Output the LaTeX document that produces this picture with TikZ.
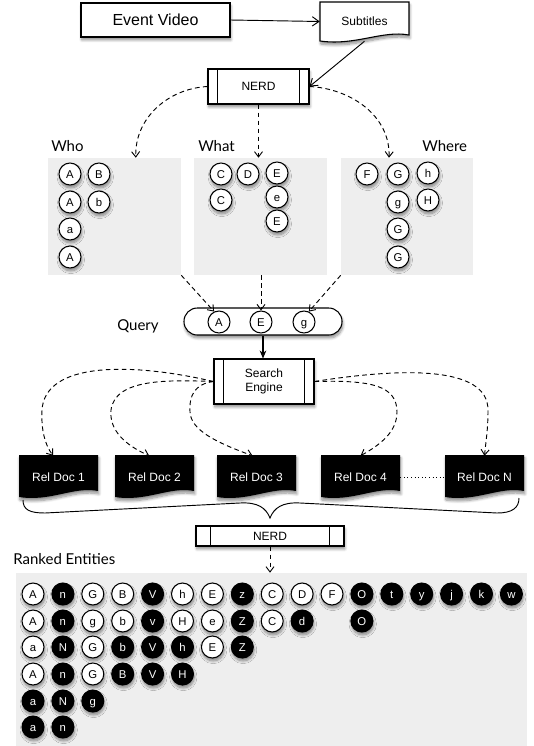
\documentclass[tikz,border=0pt]{standalone}
\usepackage{fontspec}
\setmainfont{Liberation Sans}
\newfontfamily\labelfont{Lato}
\usetikzlibrary{arrows.meta,shadows,calc}
\IfFileExists{tikzlibraryshadows.blur.code.tex}{%
  \usetikzlibrary{shadows.blur}%
  \tikzset{sh/.style={blur shadow={shadow xshift=0.6pt,shadow yshift=-2.2pt,shadow blur steps=8,shadow blur radius=2pt,shadow opacity=45}}}%
}{%
  \tikzset{sh/.style={drop shadow={shadow xshift=0.7pt,shadow yshift=-2.2pt,opacity=0.35}}}%
}
\definecolor{panel}{RGB}{238,238,238}
\newcommand{\docshape}[5]{%
  \path[#5] (#1,#2) -- (#3,#2) -- (#3,{#4-6})
    .. controls ({#3-0.3*(#3-#1)},{#4-11}) and ({#1+0.4*(#3-#1)},{#4+5}) .. (#1,#4) -- cycle;}
\newcommand{\proclines}[2]{%
  \draw[line width=0.8pt] ([xshift=#2]#1.north west) -- ([xshift=#2]#1.south west);
  \draw[line width=0.8pt] ([xshift=-#2]#1.north east) -- ([xshift=-#2]#1.south east);}
\begin{document}
\begin{tikzpicture}[x=0.75pt,y=-0.75pt,
  box/.style={draw=black,fill=white,line width=0.8pt,inner sep=0pt,sh},
  proc/.style={box,font=\fontsize{9}{11}\selectfont},
  ent0/.style={circle,draw=black,line width=0.8pt,minimum size=16.5pt,inner sep=0pt,
              text height=6.1pt,text depth=0pt,font=\fontsize{8.5}{9}\selectfont},
  ent/.style={ent0,sh},
  lbl/.style={font=\labelfont\fontsize{11.25}{13}\selectfont,inner sep=0pt,anchor=base west},
  pan/.style={fill=panel,inner sep=0pt},
  dsh/.style={dash pattern=on 3.5pt off 2.5pt,line width=0.7pt,-{Straight Barb[length=4pt,width=6pt]}},
  arr/.style={line width=0.7pt,-{Straight Barb[length=5pt,width=7pt]}},
  docnode/.style={inner sep=0pt,minimum width=59.25pt,minimum height=31.5pt,text=white,
              font=\fontsize{9}{11}\selectfont}
]
\useasboundingbox (0,0) rectangle (534,746);

% ---------- top ----------
\node[box,font=\fontsize{12}{14}\selectfont,minimum width=111.75pt,minimum height=25.5pt] (ev) at (155.5,20) {Event Video};
\docshape{320}{2}{409}{41}{fill=white,draw=black,line width=0.8pt,sh}
\node[inner sep=0pt,minimum width=66.75pt,minimum height=29.25pt,font=\fontsize{9}{11}\selectfont] (sub) at (364.5,21.5) {Subtitles};
\node[proc,minimum width=75.75pt,minimum height=26.25pt] (nerd1) at (258.5,86.5) {NERD};
\proclines{nerd1}{7.5pt}
\draw[arr] (ev.east) -- (sub.west);
\draw[arr] (sub.south) -- (nerd1.east);

% ---------- panels ----------
\node[pan,minimum width=99.75pt,minimum height=87.75pt] (who) at (114.5,216.5) {};
\node[pan,minimum width=99.75pt,minimum height=87.75pt] (what) at (260.5,216.5) {};
\node[pan,minimum width=99pt,minimum height=87.75pt] (where) at (407,216.5) {};
\node[lbl] (lwho) at (51,151) {Who};
\node[lbl] (lwhat) at (198,151) {What};
\node[lbl] (lwhere) at (422,151) {Where};

\draw[dsh] (nerd1.west) to[out=183,in=92] ([xshift=16pt]who.north);
\draw[dsh] (nerd1.south) -- (nerd1.south |- what.north);
\draw[dsh] (nerd1.east) to[out=-3,in=88] ([xshift=-13.5pt]where.north);

% who
\node[ent,fill=white] (w1) at (70,174) {A};
\node[ent,fill=white] (w2) at (99,174) {B};
\node[ent,fill=white] (w3) at (70,202) {A};
\node[ent,fill=white] (w4) at (99,202) {b};
\node[ent,fill=white] (w5) at (70,229) {a};
\node[ent,fill=white] (w6) at (70,257) {A};
% what
\node[ent,fill=white] (h1) at (221,174) {C};
\node[ent,fill=white] (h2) at (248,174) {D};
\node[ent,fill=white] (h3) at (277,173) {E};
\node[ent,fill=white] (h4) at (221,200) {C};
\node[ent,fill=white] (h5) at (277,197) {e};
\node[ent,fill=white] (h6) at (277,221) {E};
% where
\node[ent,fill=white] (e1) at (367,174) {F};
\node[ent,fill=white] (e2) at (398,174) {G};
\node[ent,fill=white] (e3) at (428,173) {h};
\node[ent,fill=white] (e4) at (398,202) {g};
\node[ent,fill=white] (e5) at (428,200) {H};
\node[ent,fill=white] (e6) at (398,229) {G};
\node[ent,fill=white] (e7) at (398,257) {G};

% ---------- query ----------
\node[box,rounded corners=10pt,minimum width=118.5pt,minimum height=20.25pt] (query) at (263,321.5) {};
\node[ent0,fill=white] (q1) at (219,322) {A};
\node[ent0,fill=white] (q2) at (261,322) {E};
\node[ent0,fill=white] (q3) at (304,322) {g};
\node[lbl] (lquery) at (117,330) {Query};
\draw[dsh] (who.south east) -- (q1.115);
\draw[dsh] (q2.north |- what.south) -- (q2.north);
\draw[dsh] (where.south west) -- (q3.65);

% ---------- search engine ----------
\node[proc,align=center,minimum width=75pt,minimum height=33.75pt] (se) at (264,381.5) {Search\\Engine};
\proclines{se}{7.5pt}
\draw[line width=0.8pt,-{Stealth[length=6pt,width=5pt]}] (query.south) -- (query.south |- se.north);

% ---------- documents ----------
\docshape{19}{455}{98}{497}{fill=black,sh}
\docshape{115}{455}{194}{497}{fill=black,sh}
\docshape{217}{455}{296}{497}{fill=black,sh}
\docshape{321}{455}{400}{497}{fill=black,sh}
\docshape{445}{455}{524}{497}{fill=black,sh}
\node[docnode] (d1) at (58.5,477) {Rel Doc 1};
\node[docnode] (d2) at (154.5,477) {Rel Doc 2};
\node[docnode] (d3) at (256.5,477) {Rel Doc 3};
\node[docnode] (d4) at (360.5,477) {Rel Doc 4};
\node[docnode] (dN) at (484.5,477) {Rel Doc N};
\draw[dotted,line width=0.7pt] (d4.east) -- (dN.west);

\draw[dsh] (se.west) .. controls (130,362) and (45,362) .. (42,410)
                     .. controls (41,430) and (45,445) .. ([xshift=-4pt]d1.north);
\draw[dsh] (se.west) .. controls (170,380) and (115,378) .. (111,410)
                     .. controls (109,430) and (125,445) .. ([xshift=-4pt]d2.north);
\draw[dsh] (se.west) .. controls (195,384) and (189,395) .. (190,412)
                     .. controls (191,430) and (215,442) .. ([xshift=-3pt]d3.north);
\draw[dsh] (se.east) .. controls (370,380) and (397,385) .. (397,412)
                     .. controls (397,432) and (380,445) .. (d4.north);
\draw[dsh] (se.east) .. controls (400,368) and (488,365) .. (488,410)
                     .. controls (488,430) and (486,440) .. (dN.north);

% ---------- brace ----------
\draw[line width=0.7pt] (23,500) .. controls (23,510) and (30,513) .. (45,513)
   -- (240,503) .. controls (258,502) and (266,508) .. (270,518)
   .. controls (274,508) and (282,502) .. (300,503)
   -- (497,513) .. controls (512,513) and (519,508) .. (519,498);

% ---------- NERD 2 ----------
\node[proc,minimum width=111pt,minimum height=15pt] (nerd2) at (270,536) {NERD};
\proclines{nerd2}{11.25pt}

% ---------- ranked ----------
\node[lbl] (lranked) at (13,564) {Ranked Entities};
\node[pan,minimum width=383.25pt,minimum height=129.75pt] (ranked) at (271.5,659.5) {};
\draw[dsh] (nerd2.south) -- (nerd2.south |- ranked.north);

\foreach \i/\l/\f/\t in {1/A/white/black,2/n/black/white,3/G/white/black,4/B/white/black,
  5/V/black/white,6/h/white/black,7/E/white/black,8/z/black/white,9/C/white/black,
  10/D/white/black,11/F/white/black,12/O/black/white,13/t/black/white,14/y/black/white,
  15/j/black/white,16/k/black/white,17/w/black/white}
  \node[ent,fill=\f,text=\t] (ra\i) at ({33+29.9*(\i-1)},594) {\l};
\foreach \i/\l/\f/\t in {1/A/white/black,2/n/black/white,3/g/white/black,4/b/white/black,
  5/v/black/white,6/H/white/black,7/e/white/black,8/Z/black/white,9/C/white/black,
  10/d/black/white,12/O/black/white}
  \node[ent,fill=\f,text=\t] (rb\i) at ({33+29.9*(\i-1)},621) {\l};
\foreach \i/\l/\f/\t in {1/a/white/black,2/N/black/white,3/G/white/black,4/b/black/white,
  5/V/black/white,6/h/black/white,7/E/white/black,8/Z/black/white}
  \node[ent,fill=\f,text=\t] (rc\i) at ({33+29.9*(\i-1)},647) {\l};
\foreach \i/\l/\f/\t in {1/A/white/black,2/n/black/white,3/G/white/black,4/B/black/white,
  5/V/black/white,6/H/black/white}
  \node[ent,fill=\f,text=\t] (rd\i) at ({33+29.9*(\i-1)},674) {\l};
\foreach \i/\l/\f/\t in {1/a/black/white,2/N/black/white,3/g/black/white}
  \node[ent,fill=\f,text=\t] (re\i) at ({33+29.9*(\i-1)},701) {\l};
\foreach \i/\l/\f/\t in {1/a/black/white,2/n/black/white}
  \node[ent,fill=\f,text=\t] (rf\i) at ({33+29.9*(\i-1)},727) {\l};
\end{tikzpicture}
\end{document}
